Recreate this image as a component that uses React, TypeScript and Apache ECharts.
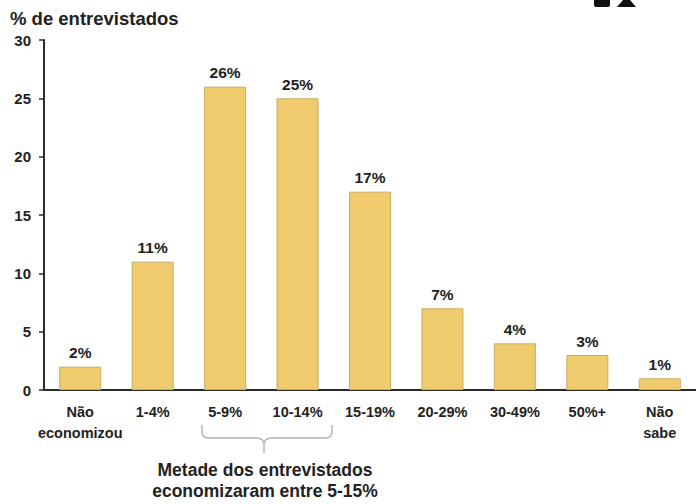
import React, { useEffect, useRef } from "react";
import * as echarts from "echarts";

const categories = ["Não\neconomizou", "1-4%", "5-9%", "10-14%", "15-19%", "20-29%", "30-49%", "50%+", "Não\nsabe"];
const values = [2, 11, 26, 25, 17, 7, 4, 3, 1];
const yTitle = "% de entrevistados";
const noteLines = ["Metade dos entrevistados", "economizaram entre 5-15%"];

const FONT = "'Liberation Sans', Arial, sans-serif";

export default function App() {
  const ref = useRef<HTMLDivElement>(null);
  useEffect(() => {
    if (!ref.current) return;
    const chart = echarts.init(ref.current, undefined, { renderer: "svg" });
    const brace = "#b4b4b4";
    chart.setOption({
      animation: false,
      backgroundColor: "#ffffff",
      textStyle: { fontFamily: FONT },
      grid: { left: 44, right: 0, top: 40, bottom: 114, containLabel: false },
      xAxis: {
        type: "category",
        data: categories,
        axisLine: { show: true, lineStyle: { color: "#2a2a2a", width: 2 } },
        axisTick: { show: false },
        axisLabel: {
          color: "#222",
          fontWeight: "bold",
          fontSize: 14.5,
          lineHeight: 21,
          margin: 11,
          interval: 0,
          fontFamily: FONT,
        },
      },
      yAxis: {
        type: "value",
        min: 0,
        max: 30,
        interval: 5,
        splitLine: { show: false },
        axisLine: { show: true, lineStyle: { color: "#2a2a2a", width: 2 } },
        axisTick: { show: true, inside: false, length: 5, lineStyle: { color: "#2a2a2a", width: 1.5 } },
        axisLabel: { color: "#222", fontWeight: "bold", fontSize: 15, margin: 13, fontFamily: FONT },
      },
      series: [
        {
          type: "bar",
          data: values,
          barWidth: 42,
          itemStyle: { color: "#EFCB6E", borderColor: "#C9AC63", borderWidth: 1 },
          label: {
            show: true,
            position: "top",
            distance: 6,
            formatter: "{c}%",
            color: "#222",
            fontWeight: "bold",
            fontSize: 15.5,
            fontFamily: FONT,
          },
        },
      ],
      graphic: [
        {
          type: "text",
          left: 10,
          top: 9,
          style: { text: yTitle, fill: "#222", font: `bold 18.5px ${FONT}` },
        },
        {
          type: "polyline",
          shape: { points: [[202, 425], [202, 433], [203.5, 436.5], [207, 438], [258, 438], [262, 439.5], [264, 443], [264, 453]] },
          style: { stroke: brace, lineWidth: 1.5, fill: null },
        },
        {
          type: "polyline",
          shape: { points: [[332, 425], [332, 433], [330.5, 436.5], [327, 438], [270, 438], [266, 439.5], [264, 443]] },
          style: { stroke: brace, lineWidth: 1.5, fill: null },
        },
        {
          type: "text",
          x: 265,
          y: 470,
          style: { text: noteLines[0], fill: "#222", font: `bold 17.5px ${FONT}`, align: "center", verticalAlign: "middle" },
        },
        {
          type: "text",
          x: 265,
          y: 491,
          style: { text: noteLines[1], fill: "#222", font: `bold 17.5px ${FONT}`, align: "center", verticalAlign: "middle" },
        },
        {
          type: "rect",
          shape: { x: 594, y: -4, width: 16, height: 11, r: 2 },
          style: { fill: "#111" },
        },
        {
          type: "polygon",
          shape: { points: [[617, 7], [636, 7], [630, 0], [623, 0]] },
          style: { fill: "#111" },
        },
      ],
    });
    return () => chart.dispose();
  }, []);
  return <div ref={ref} style={{ position: "absolute", left: 0, top: 0, width: 696, height: 504 }} />;
}
